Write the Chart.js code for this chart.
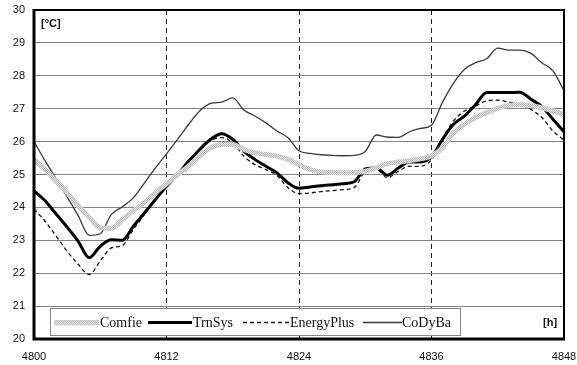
<!DOCTYPE html>
<html>
<head>
<meta charset="utf-8">
<script src="https://cdn.jsdelivr.net/npm/chart.js@4.4.1/dist/chart.umd.min.js"></script>
<style>
  body { margin: 0; background: #fff; }
  canvas { display: block; }
</style>
</head>
<body>
<canvas id="tempChart" width="577" height="365"></canvas>
<script>
  const hours = [];
  for (let h = 4800; h <= 4848; h++) hours.push(h);

  const comfie = [
    25.45, 25.15, 24.8, 24.45, 24.05, 23.7, 23.38, 23.36, 23.63, 23.9, 24.15, 24.45, 24.72,
    25.0, 25.25, 25.56, 25.81, 25.91, 25.91, 25.76, 25.66, 25.61, 25.56, 25.46, 25.3,
    25.15, 25.08, 25.06, 25.05, 25.06, 25.1, 25.2, 25.33, 25.38, 25.42, 25.48, 25.56,
    25.82, 26.27, 26.53, 26.73, 26.88, 27.01, 27.1, 27.13, 27.1, 27.03, 26.93, 26.83
  ];
  const trnsys = [
    24.5, 24.2, 23.8, 23.4, 22.97, 22.47, 22.82, 23.02, 23.0, 23.43, 23.83, 24.24, 24.64,
    25.0, 25.4, 25.76, 26.07, 26.24, 26.07, 25.71, 25.46, 25.25, 25.05, 24.75, 24.58,
    24.62, 24.66, 24.69, 24.72, 24.78, 25.17, 25.2, 24.98, 25.2, 25.38, 25.38, 25.53,
    26.07, 26.53, 26.78, 27.13, 27.49, 27.49, 27.49, 27.5, 27.29, 27.06, 26.68, 26.3
  ];
  const energyPlus = [
    23.95, 23.58, 23.13, 22.67, 22.27, 21.96, 22.37, 22.77, 22.84, 23.33, 23.78, 24.24, 24.62,
    25.0, 25.38, 25.74, 26.03, 26.12, 25.96, 25.56, 25.3, 25.15, 24.97, 24.6, 24.42,
    24.44, 24.48, 24.51, 24.54, 24.6, 25.1, 25.17, 24.9, 25.1, 25.25, 25.25, 25.45,
    26.1, 26.63, 26.93, 27.08, 27.24, 27.26, 27.2, 27.13, 26.98, 26.73, 26.32, 26.05
  ];
  const codyba = [
    26.0, 25.42, 24.87, 24.32, 23.75, 23.15, 23.2, 23.78, 24.02, 24.29, 24.74, 25.2, 25.63,
    26.07, 26.52, 26.93, 27.16, 27.2, 27.33, 26.96, 26.78, 26.57, 26.32, 26.12, 25.72,
    25.64, 25.6, 25.58, 25.57, 25.58, 25.7, 26.2, 26.14, 26.13, 26.3, 26.4, 26.5,
    27.2, 27.78, 28.2, 28.4, 28.52, 28.84, 28.78, 28.78, 28.68, 28.4, 28.15, 27.55
  ];

  // grainy grey band for Comfie
  const pc = document.createElement('canvas');
  pc.width = 2; pc.height = 2;
  const pctx = pc.getContext('2d');
  pctx.fillStyle = '#e4e4e4'; pctx.fillRect(0, 0, 2, 2);
  pctx.fillStyle = '#b8b8b8'; pctx.fillRect(0, 0, 1, 1); pctx.fillRect(1, 1, 1, 1);
  const comfiePattern = pctx.createPattern(pc, 'repeat');

  const toXY = arr => arr.map((v, i) => ({ x: hours[i], y: v }));

  const data = {
    datasets: [
      { label: 'Comfie', data: toXY(comfie), borderColor: comfiePattern, borderWidth: 5 },
      { label: 'TrnSys', data: toXY(trnsys), borderColor: '#000', borderWidth: 3 },
      { label: 'EnergyPlus', data: toXY(energyPlus), borderColor: '#111', borderWidth: 1.3, borderDash: [4, 3] },
      { label: 'CoDyBa', data: toXY(codyba), borderColor: '#3a3a3a', borderWidth: 1.3 },
    ]
  };

  const framePlugin = {
    id: 'frame',
    afterDraw(chart) {
      const { ctx, chartArea: a } = chart;
      ctx.save();
      ctx.strokeStyle = '#000';
      ctx.lineWidth = 2;
      ctx.beginPath();
      ctx.moveTo(a.left, a.top); ctx.lineTo(a.right, a.top); ctx.lineTo(a.right, a.bottom);
      ctx.stroke();
      ctx.lineWidth = 3;
      ctx.beginPath();
      ctx.moveTo(a.left, a.top - 1); ctx.lineTo(a.left, a.bottom); ctx.lineTo(a.right + 1, a.bottom);
      ctx.stroke();

      // legend box
      const lx = 50, ly = 308, lw = 410, lh = 27;
      ctx.fillStyle = '#fff';
      ctx.fillRect(lx, ly, lw, lh);
      ctx.strokeStyle = '#888';
      ctx.lineWidth = 1;
      ctx.strokeRect(lx + 0.5, ly + 0.5, lw, lh);
      const items = [[54, 99, 100], [148, 192, 193], [243, 289, 290], [363, 402, 402]];
      const cy = 322.5;
      chart.data.datasets.forEach((ds, i) => {
        const [x1, x2, tx] = items[i];
        ctx.strokeStyle = ds.borderColor;
        ctx.lineWidth = ds.borderWidth;
        ctx.setLineDash(ds.borderDash || []);
        ctx.beginPath(); ctx.moveTo(x1, cy); ctx.lineTo(x2, cy); ctx.stroke();
        ctx.setLineDash([]);
        ctx.fillStyle = '#111';
        ctx.font = '14px "Liberation Serif", "Times New Roman", serif';
        ctx.textBaseline = 'middle';
        ctx.textAlign = 'left';
        ctx.fillText(ds.label, tx, cy + 1);
      });

      ctx.font = 'bold 11px "Liberation Sans", Arial, sans-serif';
      ctx.fillStyle = '#111';
      ctx.fillText('[°C]', 41, 24);
      ctx.fillText('[h]', 543, 323);
      ctx.restore();
    }
  };

  const tickFont = { family: '"Liberation Sans", Arial, sans-serif', size: 11 };
  const noPad = s => { s.paddingTop = 0; s.paddingBottom = 0; s.paddingLeft = 0; s.paddingRight = 0; };

  const config = {
    type: 'line',
    data,
    options: {
      responsive: false,
      animation: false,
      devicePixelRatio: 1,
      layout: { padding: { top: 10, right: 13, left: 0, bottom: 0 } },
      elements: {
        point: { radius: 0 },
        line: { tension: 0.4, cubicInterpolationMode: 'monotone' }
      },
      plugins: {
        legend: { display: false },
        tooltip: { enabled: false }
      },
      scales: {
        x: {
          type: 'linear',
          min: 4800,
          max: 4848,
          afterFit: s => { s.height = 26; noPad(s); },
          ticks: { stepSize: 12, font: tickFont, color: '#111', padding: 11, maxRotation: 0, callback: v => String(v) },
          grid: {
            drawTicks: false,
            color: c => (c.tick && (c.tick.value === 4800 || c.tick.value === 4848)) ? 'rgba(0,0,0,0)' : '#222',
            lineWidth: 1
          },
          border: { display: false, dash: [5, 4] }
        },
        y: {
          min: 20,
          max: 30,
          afterFit: s => { s.width = 34; noPad(s); },
          ticks: { stepSize: 1, font: tickFont, color: '#111', padding: 9 },
          grid: {
            drawTicks: false,
            color: c => (c.tick && (c.tick.value === 20 || c.tick.value === 30)) ? 'rgba(0,0,0,0)' : '#848484',
            lineWidth: 1
          },
          border: { display: false }
        }
      }
    },
    plugins: [framePlugin]
  };

  const tempChart = new Chart(document.getElementById('tempChart'), config);
</script>
</body>
</html>
